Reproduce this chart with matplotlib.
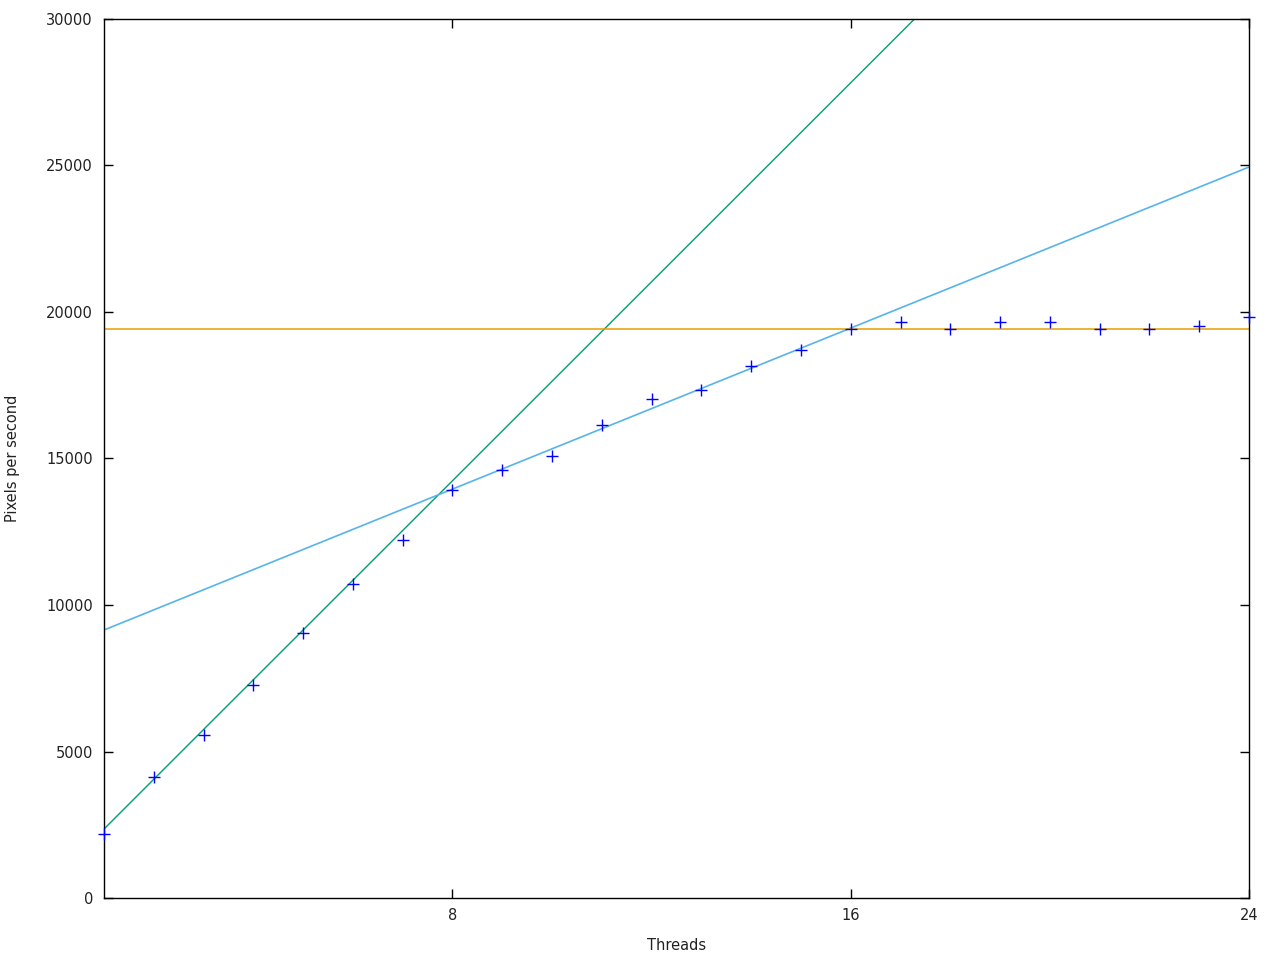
import numpy as np
import matplotlib
matplotlib.use("Agg")
import matplotlib.pyplot as plt

# measured throughput per thread count
threads = list(range(1, 25))
pixels_per_sec = [2180, 4130, 5560, 7270, 9040, 10720, 12220, 13930,
                  14610, 15090, 16140, 17030, 17340, 18160, 18700, 19420,
                  19660, 19420, 19660, 19660, 19420, 19420, 19520, 19830]

# fitted lines (slope, intercept)
fit_steep = (1698, 657)
fit_shallow = (687, 8460)
plateau = 19420


def main():
    fig = plt.figure(figsize=(12.8, 9.6), dpi=100)
    ax = fig.add_axes([104 / 1280, 1 - 898 / 960, (1249 - 104) / 1280, (898 - 19) / 960])

    xs = np.array([1, 24])
    ax.plot(xs, fit_steep[0] * xs + fit_steep[1], color="#009e73", lw=1)
    ax.plot(xs, fit_shallow[0] * xs + fit_shallow[1], color="#56b4e9", lw=1.2)
    ax.axhline(plateau, color="#e69f00", lw=1.1)
    ax.plot(threads, pixels_per_sec, "+", color="#0000ff", ms=8, mew=1.0,
            clip_on=False, zorder=3)

    ax.set_xlim(1, 24)
    ax.set_ylim(0, 30000)
    ax.set_xticks([8, 16, 24])
    ax.set_yticks(range(0, 30001, 5000))
    ax.tick_params(direction="in", length=6.5, width=1, top=True, right=True,
                   labelsize=10.5, colors="black", labelcolor="#222222", pad=8)
    ax.tick_params(axis="x", pad=7)
    for s in ax.spines.values():
        s.set_linewidth(1)

    ax.set_xlabel("Threads", fontsize=10.5, color="#222222", va="center")
    ax.set_ylabel("Pixels per second", fontsize=10.5, color="#222222", va="center")
    ax.xaxis.set_label_coords(0.5, -0.0535)
    ax.yaxis.set_label_coords(-0.0795, 0.5)

    fig.savefig("out.png", dpi=100)


if __name__ == '__main__':
    main()
